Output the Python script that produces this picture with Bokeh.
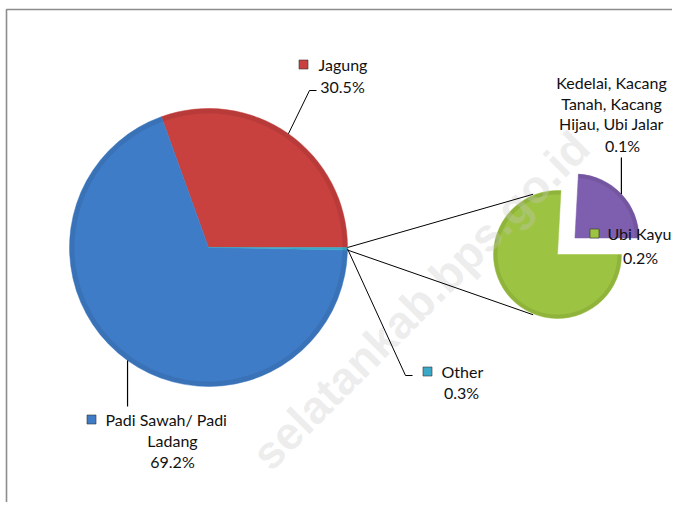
import math
from bokeh.plotting import figure
from bokeh.models import Range1d, ColumnDataSource
from bokeh.core.properties import value
from bokeh.embed import file_html
from bokeh.resources import INLINE

# ---------------- data ----------------
main_labels = ["Jagung", "Padi Sawah/ Padi Ladang", "Other"]
main_values = [30.5, 69.2, 0.29]
main_colors = ["#C8413E", "#3F7CC8", "#3AA9C8"]
main_label_lines = [["Jagung"], ["Padi Sawah/ Padi", "Ladang"], ["Other"]]

sub_labels = ["Kedelai, Kacang Tanah, Kacang Hijau, Ubi Jalar", "Ubi Kayu"]
sub_values = [0.07, 0.22]
sub_colors = ["#7E5EAE", "#9CC341"]
sub_label_lines = [["Kedelai, Kacang", "Tanah, Kacang", "Hijau, Ubi Jalar"], ["Ubi Kayu"]]

watermark = "selatankab.bps.go.id"

# ---------------- layout ----------------
W, H = 672, 502
def X(sx):  # picture x -> data x
    return sx
def Y(sy):  # picture y -> data y
    return H - sy

FONT = value("Lato")
FS = "16px"

p = figure(width=W, height=H, x_range=Range1d(0, W), y_range=Range1d(0, H),
           output_backend="svg", toolbar_location=None, min_border=0,
           x_axis_location=None, y_axis_location=None)
p.grid.visible = False
p.outline_line_color = None
p.background_fill_color = "white"
p.border_fill_color = "white"

# chart area border (top and left visible)
p.line([X(6), X(6), W + 5], [Y(600), Y(9), Y(9)], line_color="#8C8C8C", line_width=1.6)

# ---- main pie ----
mcx, mcy, mr = X(208), Y(247), 139
tot = sum(main_values)
m_start, m_end, acc = [], [], 0.0
for v in main_values:
    m_start.append(2 * math.pi * acc / tot)
    acc += v
    m_end.append(2 * math.pi * acc / tot)
msrc = ColumnDataSource(dict(start=m_start, end=m_end, color=main_colors))
p.wedge(x=mcx, y=mcy, radius=mr, start_angle="start", end_angle="end",
        fill_color="color", line_color="color", line_width=0.5, source=msrc)
# soft rim shading
p.annular_wedge(x=mcx, y=mcy, inner_radius=mr - 5, outer_radius=mr, start_angle="start",
                end_angle="end", fill_color="black", fill_alpha=0.08, line_color=None, source=msrc)

# ---- secondary pie ----
scx, scy, sr = X(557), Y(254), 64
stot = sum(sub_values)
s_start, s_end, s_x, s_y, acc = [], [], [], [], 0.0
explode = [24, 0]
for v, e in zip(sub_values, explode):
    a0 = 2 * math.pi * acc / stot
    acc += v
    a1 = 2 * math.pi * acc / stot
    mid = (a0 + a1) / 2
    s_start.append(a0); s_end.append(a1)
    s_x.append(scx + e * math.cos(mid)); s_y.append(scy + e * math.sin(mid))
ssrc = ColumnDataSource(dict(x=s_x, y=s_y, start=s_start, end=s_end, color=sub_colors))
p.wedge(x="x", y="y", radius=sr, start_angle="start", end_angle="end",
        fill_color="color", line_color="color", line_width=0.5, source=ssrc)
p.annular_wedge(x="x", y="y", inner_radius=sr - 4, outer_radius=sr, start_angle="start",
                end_angle="end", fill_color="black", fill_alpha=0.08, line_color=None, source=ssrc)

# ---- watermark ----
p.text(x=[X(420)], y=[Y(300)], text=[watermark], angle=math.radians(45),
       text_font=value("Liberation Sans"), text_font_style="bold", text_font_size="46px",
       text_color="#C8C8C8", text_alpha=0.32, text_align="center", text_baseline="middle")

# ---- connector lines main -> secondary ----
other_a0, other_a1 = m_start[2], m_end[2]
for ma, sa in [(other_a1, math.radians(112)), (other_a0, math.radians(248))]:
    p.line([mcx + mr * math.cos(ma), scx + (sr + 1) * math.cos(sa)],
           [mcy + mr * math.sin(ma), scy + (sr + 1) * math.sin(sa)],
           line_color="black", line_width=1)

def edge(cx, cy, r, a0, a1):
    m = (a0 + a1) / 2
    return cx + r * math.cos(m), cy + r * math.sin(m)

# ---- leader lines ----
ex, ey = edge(mcx, mcy, mr, m_start[0], m_end[0])
p.line([ex, X(309), X(316)], [ey, Y(90), Y(90)], line_color="black", line_width=1)
ex, ey = edge(mcx, mcy, mr, m_start[1], m_end[1])
p.line([ex, ex], [ey, Y(406)], line_color="black", line_width=1.2)
ex, ey = edge(mcx, mcy, mr, m_start[2], m_end[2])
p.line([ex, X(405), X(412)], [ey, Y(375), Y(375)], line_color="black", line_width=1)
ex, ey = edge(s_x[0], s_y[0], sr, s_start[0], s_end[0])
p.line([ex, ex], [ey, Y(157)], line_color="black", line_width=1.2)

# ---- labels ----
def pct(v):
    return f"{v:.1f}%"

def marker(sx, sy, color):
    p.scatter([X(sx)], [Y(sy)], marker="square", size=9, fill_color=color,
              line_color="#333333", line_width=0.6)

def txt(sx, sy, s, align):
    p.text([X(sx)], [Y(sy)], text=[s], text_font=FONT, text_font_size=FS,
           text_color="#111111", text_align=align, text_baseline="middle")

# Jagung
marker(303, 64, main_colors[0])
txt(318, 64, main_label_lines[0][0], "left")
txt(342, 86, pct(main_values[0]), "center")
# Padi
marker(91, 419, main_colors[1])
txt(105, 419, main_label_lines[1][0], "left")
txt(172, 440, main_label_lines[1][1], "center")
txt(172, 461, pct(main_values[1]), "center")
# Other
marker(427, 371, main_colors[2])
txt(441, 371, main_label_lines[2][0], "left")
txt(461, 392, pct(main_values[2]), "center")
# Kedelai...
for i, s in enumerate(sub_label_lines[0]):
    txt(611, 82 + 20.5 * i, s, "center")
txt(622, 145, pct(sub_values[0]), "center")
# Ubi Kayu
marker(594, 233, sub_colors[1])
txt(607, 233, sub_label_lines[1][0], "left")
txt(640, 257, pct(sub_values[1]), "center")

open("out.html", "w").write(file_html(p, INLINE))
